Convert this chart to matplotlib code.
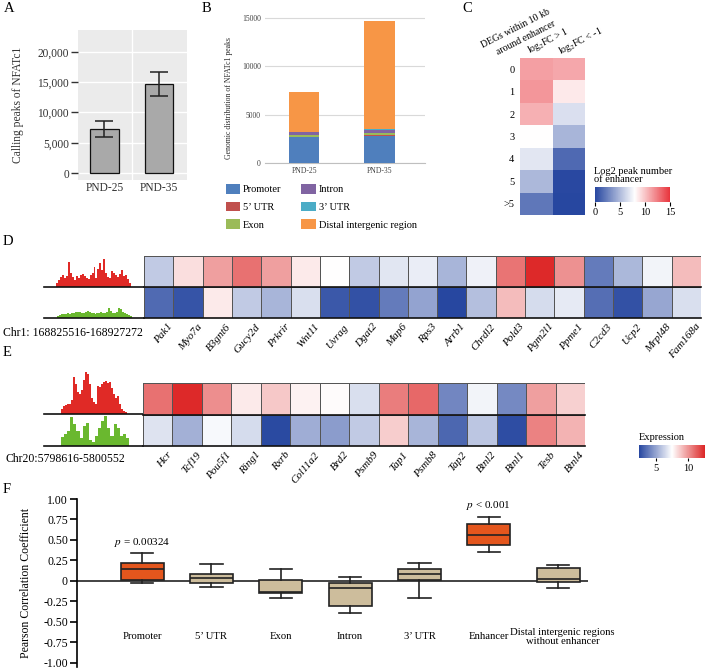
import matplotlib
matplotlib.use('Agg')
import matplotlib.pyplot as plt
import numpy as np
from matplotlib.colors import LinearSegmentedColormap
from matplotlib.patches import Patch

plt.rcParams['font.family'] = ['Liberation Serif', 'DejaVu Serif']
plt.rcParams['mathtext.fontset'] = 'stix'
plt.rcParams['axes.unicode_minus'] = False

# ---------------- data ----------------
a_groups = ['PND-25', 'PND-35']
a_peaks = [7300, 14700]
a_err = [1300, 2000]

b_groups = ['PND-25', 'PND-35']
b_regions = ['Promoter', '5\u2019 UTR', 'Exon', 'Intron', '3\u2019 UTR', 'Distal intergenic region']
b_promoter = [2650, 2800]
b_utr5 = [60, 70]
b_exon = [200, 220]
b_intron = [250, 300]
b_utr3 = [80, 90]
b_distal = [4110, 11220]

c_rows = ['0', '1', '2', '3', '4', '5', '>5']
c_up = [11.3, 11.6, 10.7, 8.0, 6.9, 4.9, 2.1]
c_down = [11.0, 8.7, 6.6, 4.8, 1.5, 0.1, 0.0]

d_genes = ['Pak1', 'Myo7a', 'B3gnt6', 'Gucy2d', 'Prkrir', 'Wnt11', 'Uvrag', 'Dgat2', 'Map6', 'Rps3',
           'Arrb1', 'Chrdl2', 'Pold3', 'Pgm2l1', 'Ppme1', 'C2cd3', 'Ucp2', 'Mrpl48', 'Fam168a']
d_row1 = [6.0, 8.3, 9.8, 10.9, 9.8, 8.0, 7.5, 6.0, 6.8, 7.0, 5.4, 7.1, 10.8, 12.6, 10.1, 3.8, 5.5, 7.2, 9.1]
d_row2 = [3.3, 2.7, 8.0, 6.0, 5.4, 6.6, 2.8, 2.6, 3.8, 4.9, 2.3, 5.7, 9.1, 6.5, 6.9, 3.4, 2.6, 5.0, 6.6]
d_track_red = [4, 7, 10, 12, 9, 11, 25, 14, 10, 7, 11, 9, 12, 13, 11, 9, 8, 12, 14, 20, 9, 18, 24, 17,
               28, 14, 10, 9, 16, 14, 12, 10, 13, 17, 11, 12, 8, 4]
d_track_green = [2, 3, 4, 4, 4, 5, 4, 5, 5, 6, 6, 6, 5, 5, 6, 7, 6, 5, 5, 4, 5, 5, 6, 5, 5, 6, 10, 7,
                 5, 5, 6, 10, 9, 6, 5, 4, 3, 2]
d_region = 'Chr1: 168825516-168927272'

e_genes = ['Hcr', 'Tcf19', 'Pou5f1', 'Ring1', 'Rxrb', 'Col11a2', 'Brd2', 'Psmb9', 'Tap1', 'Psmb8',
           'Tap2', 'Btnl2', 'Btnl1', 'Tesb', 'Btnl4']
e_row1 = [10.9, 12.6, 10.2, 8.0, 8.8, 7.8, 7.6, 6.6, 10.6, 11.1, 4.1, 7.2, 4.2, 9.8, 8.6]
e_row2 = [6.7, 5.3, 7.3, 6.5, 2.4, 5.2, 4.7, 6.0, 8.7, 5.4, 3.2, 5.9, 2.5, 10.5, 9.3]
e_track_red = [5, 8, 9, 10, 10, 14, 37, 30, 22, 20, 24, 34, 42, 40, 30, 16, 12, 10, 28, 27, 30, 32, 33,
               31, 32, 26, 20, 16, 18, 10, 5, 3, 2]
e_track_green = [9, 12, 15, 29, 22, 15, 8, 20, 23, 6, 4, 10, 18, 25, 30, 18, 10, 22, 18, 10, 12, 8]
e_region = 'Chr20:5798616-5800552'

f_regions = ['Promoter', '5\u2019 UTR', 'Exon', 'Intron', '3\u2019 UTR', 'Enhancer',
             'Distal intergenic regions\nwithout enhancer']
f_whislo = [-0.03, -0.07, -0.21, -0.39, -0.21, 0.35, -0.08]
f_q1 = [0.01, -0.02, -0.15, -0.31, 0.01, 0.44, -0.01]
f_med = [0.15, 0.03, -0.13, -0.09, 0.08, 0.56, 0.02]
f_q3 = [0.22, 0.08, 0.01, -0.03, 0.15, 0.70, 0.16]
f_whishi = [0.34, 0.21, 0.15, 0.05, 0.22, 0.78, 0.20]
f_highlight = [True, False, False, False, False, True, False]

# ---------------- figure ----------------
W, H = 708, 672
fig = plt.figure(figsize=(W / 100, H / 100), dpi=100)


def px_axes(x0, y0, x1, y1):
    return fig.add_axes([x0 / W, 1 - y1 / H, (x1 - x0) / W, (y1 - y0) / H])


def ftext(x, y, s, **kw):
    return fig.text(x / W, 1 - y / H, s, **kw)


for lab, x, y in [('A', 4, 2), ('B', 202, 2), ('C', 462, 2), ('D', 3, 235), ('E', 3, 346), ('F', 3, 483)]:
    ftext(x, y, lab, fontsize=10.5, va='top', ha='left')

# ---------------- A ----------------
axA = px_axes(78, 30, 187, 180)
axA.set_facecolor('#ebebeb')
axA.bar([0, 1], a_peaks, width=0.53, color='#a9a9a9', edgecolor='#111111', linewidth=0.9, zorder=3)
axA.errorbar([0, 1], a_peaks, yerr=a_err, fmt='none', ecolor='#222222', elinewidth=1.1,
             capsize=6.5, capthick=1.1, zorder=4)
axA.set_xlim(-0.486, 1.514)
axA.set_ylim(-1157, 23636)
for v in [0, 5000, 10000, 15000, 20000]:
    axA.axhline(v, color='white', lw=1.0, zorder=1)
axA.axvline(0.5, color='white', lw=1.0, zorder=1)
axA.set_yticks([0, 5000, 10000, 15000, 20000])
axA.set_yticklabels(['0', '5,000', '10,000', '15,000', '20,000'])
axA.set_xticks([0, 1])
axA.set_xticklabels(a_groups)
axA.tick_params(axis='y', length=5, width=1.0, color='#333333', labelsize=8.3, labelcolor='#333333', pad=1.5)
axA.tick_params(axis='x', length=0, labelsize=8.3, labelcolor='#333333', pad=1.5)
for s in axA.spines.values():
    s.set_visible(False)
axA.set_ylabel('Calling peaks of NFATc1', fontsize=8.3, color='#333333')
axA.yaxis.set_label_coords(-0.495, 0.5)

# ---------------- B ----------------
axB = px_axes(265, 14, 425, 163)
b_colors = ['#4f7fbd', '#c0504d', '#9bbb59', '#8064a2', '#4bacc6', '#f79646']
b_series = [b_promoter, b_utr5, b_exon, b_intron, b_utr3, b_distal]
bottom = np.zeros(2)
for vals, col, lab in zip(b_series, b_colors, b_regions):
    axB.bar([0, 1], vals, bottom=bottom, width=0.4, color=col, label=lab, zorder=3)
    bottom += np.array(vals)
axB.set_xlim(-0.517, 1.603)
axB.set_ylim(0, 15414)
axB.set_yticks([0, 5000, 10000, 15000])
axB.yaxis.grid(True, color='#d9d9d9', lw=0.8, zorder=0)
axB.set_xticks([0, 1])
axB.set_xticklabels(b_groups)
axB.tick_params(axis='both', length=0, labelsize=5.5, labelcolor='#404040', pad=3)
for k, s in axB.spines.items():
    s.set_visible(k == 'bottom')
axB.spines['bottom'].set_color('#bfbfbf')
axB.set_ylabel('Genomic distribution of NFATc1 peaks', fontsize=5.6, color='#262626')
axB.yaxis.set_label_coords(-0.2, 0.436)
handles = [Patch(facecolor=c, edgecolor='none', label=l) for c, l in zip(b_colors, b_regions)]
fig.legend(handles=handles, loc='upper left', bbox_to_anchor=(226 / W, 1 - 184 / H), ncol=2,
           frameon=False, fontsize=7.5, handlelength=1.35, handleheight=1.05, handletextpad=0.3,
           columnspacing=1.9, labelspacing=0.7, borderpad=0, borderaxespad=0)

# ---------------- C ----------------
cmapC = LinearSegmentedColormap.from_list('c', [(0, '#2747a0'), (0.53, '#ffffff'), (1, '#e8343c')])
axC = px_axes(520, 58, 585, 215)
mC = axC.pcolormesh(np.column_stack([c_up, c_down]), cmap=cmapC, vmin=0, vmax=15)
axC.set_ylim(7, 0)
axC.set_xlim(0, 2)
axC.set_yticks(np.arange(7) + 0.5)
axC.set_yticklabels(c_rows)
axC.set_xticks([])
axC.tick_params(axis='y', length=0, labelsize=7.5, pad=4)
for s in axC.spines.values():
    s.set_visible(False)
ftext(484, 50, 'DEGs within 10 kb', rotation=27, rotation_mode='anchor', ha='left', va='bottom', fontsize=7)
ftext(499, 57, 'around enhancer', rotation=27, rotation_mode='anchor', ha='left', va='bottom', fontsize=7)
ftext(531, 57, r'log$_2$FC > 1', rotation=27, rotation_mode='anchor', ha='left', va='bottom', fontsize=7)
ftext(562, 58, r'log$_2$FC < -1', rotation=27, rotation_mode='anchor', ha='left', va='bottom', fontsize=7)
caxC = px_axes(595, 187, 670, 202)
cbC = fig.colorbar(mC, cax=caxC, orientation='horizontal')
cbC.set_ticks([0, 5, 10, 15])
cbC.outline.set_visible(False)
caxC.tick_params(length=3, width=0.8, labelsize=7.5, pad=1)
ftext(594, 184, 'Log2 peak number\nof enhancer', fontsize=7.5, ha='left', va='bottom', linespacing=0.8)

# ---------------- D / E heatmaps ----------------
cmapX = LinearSegmentedColormap.from_list('x', [(0, '#2747a0'), (0.5, '#ffffff'), (1, '#dc2626')])
vminX, vmaxX = 2.3, 12.7


def heat(x0, y0, x1, y1, row1, row2, genes):
    ax = px_axes(x0, y0, x1, y1)
    m = ax.pcolormesh(np.array([row1, row2]), cmap=cmapX, vmin=vminX, vmax=vmaxX,
                      edgecolors='#555555', linewidth=0.6)
    n = len(genes)
    ax.set_xlim(0, n)
    ax.set_ylim(2, 0)
    ax.axis('off')
    ax.axhline(1, color='#111111', lw=1.2, clip_on=False)
    ax.axhline(2, color='#111111', lw=1.2, clip_on=False)
    for i, g in enumerate(genes):
        ax.text(i + 0.8, 2.13, g, rotation=50, rotation_mode='anchor', ha='right', va='top',
                fontsize=8, style='italic')
    return m


def track(x0, y0, x1, y1, vals, color, bx0, bx1, top):
    ax = px_axes(x0, y0, x1, y1)
    n = len(vals)
    bw = (bx1 - bx0) / n
    ax.stairs(vals, np.arange(n + 1), fill=True, color=color, linewidth=0)
    ax.set_xlim(-(bx0 - x0) / bw, n + (x1 - bx1) / bw)
    ax.set_ylim(0, top)
    ax.axis('off')
    ax.axhline(0, color='#111111', lw=1.2, clip_on=False)


track(44, 255, 144, 287, d_track_red, '#e02a26', 56, 131, 32)
track(44, 297, 144, 318, d_track_green, '#6ab82f', 57, 132, 21)
heat(144, 256, 701, 318, d_row1, d_row2, d_genes)
ftext(3, 333, d_region, fontsize=8.5, va='center', ha='left')

track(44, 371, 143, 414, e_track_red, '#e02a26', 61, 127, 43)
track(44, 415, 143, 446, e_track_green, '#6ab82f', 61, 129, 31)
mE = heat(143, 383, 585, 446, e_row1, e_row2, e_genes)
ftext(6, 459, e_region, fontsize=8.5, va='center', ha='left')

caxE = px_axes(639, 445, 705, 458)
cbE = fig.colorbar(mE, cax=caxE, orientation='horizontal')
cbE.set_ticks([5, 10])
cbE.outline.set_visible(False)
caxE.tick_params(length=2.5, width=0.8, labelsize=7.5, pad=1.5)
ftext(639, 442, 'Expression', fontsize=7.5, ha='left', va='bottom')

# ---------------- F ----------------
axF = px_axes(77, 499, 588, 667)
stats = [dict(med=m, q1=a, q3=b, whislo=lo, whishi=hi, fliers=[])
         for m, a, b, lo, hi in zip(f_med, f_q1, f_q3, f_whislo, f_whishi)]
ec = '#222222'
bp = axF.bxp(stats, positions=range(1, 8), widths=0.62, patch_artist=True, showfliers=False,
             capwidths=0.32,
             boxprops=dict(edgecolor=ec, linewidth=1.2),
             medianprops=dict(color=ec, linewidth=1.2),
             whiskerprops=dict(color=ec, linewidth=1.2),
             capprops=dict(color=ec, linewidth=1.2), zorder=3)
for patch, hl in zip(bp['boxes'], f_highlight):
    patch.set_facecolor('#e4561d' if hl else '#cdbd9c')
axF.axhline(0, color=ec, lw=1.2, zorder=1)
axF.set_xlim(0.062, 7.43)
axF.set_ylim(-1.05, 1.0)
axF.set_yticks([1, 0.75, 0.5, 0.25, 0, -0.25, -0.5, -0.75, -1])
axF.set_yticklabels(['1.00', '0.75', '0.50', '0.25', '0', '-0.25', '-0.50', '-0.75', '-1.00'])
axF.set_xticks([])
axF.tick_params(axis='y', length=5, width=1.2, labelsize=8.5, pad=1.5)
for k, s in axF.spines.items():
    s.set_visible(k == 'left')
axF.spines['left'].set_linewidth(1.2)
axF.set_ylabel('Pearson Correlation Coefficient', fontsize=8.5)
axF.yaxis.set_label_coords(-0.088, 0.5)
for i, lab in enumerate(f_regions):
    axF.text(i + 1 + (0.06 if i == 6 else 0), -0.68, lab, ha='center', va='center', fontsize=7.7,
             linespacing=1.0)
axF.text(1, 0.47, r'$p$ = 0.00324', ha='center', va='center', fontsize=8)
axF.text(6, 0.92, r'$p$ < 0.001', ha='center', va='center', fontsize=8)

fig.savefig('out.png', dpi=100)
